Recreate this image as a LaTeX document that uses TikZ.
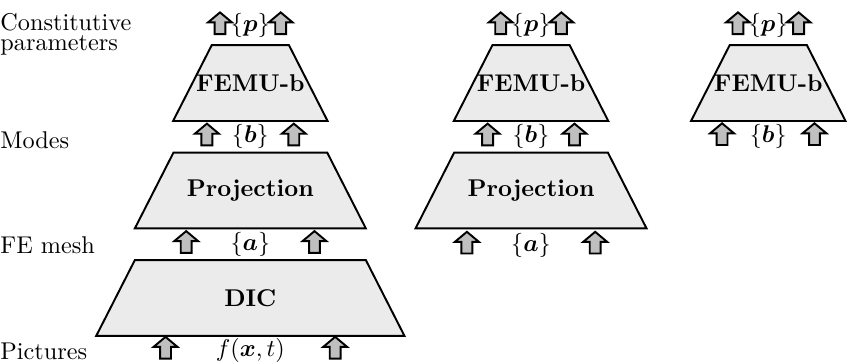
\documentclass[tikz,border=0pt]{standalone}
\usepackage{amsmath,amssymb}
\usepackage{tikz}
\usetikzlibrary{positioning,shapes.geometric,shapes.arrows,calc}
\usepackage{xcolor}

\begin{document}
\begin{tikzpicture}[node distance=4.3mm]
\tikzset{layer/.style={draw, thick, fill=gray!16, trapezium, trapezium angle=63, trapezium stretches body, text height=11mm, text depth=0pt, inner sep=0pt},flow/.style={draw, thick, fill=gray!50, single arrow, single arrow head extend=0.95mm, single arrow tip angle=100, inner xsep=1.1mm, inner ysep=0.65mm, minimum width=3.1mm, minimum height=3.1mm, rotate=90},qty/.style={inner sep=0.4pt},side/.style={anchor=west, inner sep=0pt, align=left}}
\useasboundingbox (0,0) rectangle (122.96mm,52.49mm);
\node[layer, minimum width=44.7mm] (dic) at (36.3mm,9.28mm) {};
\node[layer, minimum width=33.5mm, above=of dic] (proj) {};
\node[layer, minimum width=22.4mm, above=of proj] (femu) {};
\node[layer, minimum width=33.5mm] (proj2) at ($(proj)+(40.7mm,0)$) {};
\node[layer, minimum width=22.4mm, above=of proj2] (femu2) {};
\node[layer, minimum width=22.4mm] (femu3) at ($(femu2)+(34.4mm,0)$) {};
\node[font=\bfseries] (dictxt) at (dic) {DIC}; \node[font=\bfseries] (projtxt) at (proj) {Projection}; \node[font=\bfseries] (femutxt) at (femu) {FEMU-b};
\node[font=\bfseries] (projtxt2) at (proj2) {Projection}; \node[font=\bfseries] (femutxt2) at (femu2) {FEMU-b}; \node[font=\bfseries] (femutxt3) at (femu3) {FEMU-b};
\node[qty] (qf) at ($(dic.south)+(0,-1.9mm)$) {$f(\boldsymbol{x},t)$};
\node[flow] (f1) at ($(qf)+(-12.3mm,0)$) {}; \node[flow] (f2) at ($(qf)+(12.3mm,0)$) {};
\node[qty] (qa) at ($(dic.north)!.5!(proj.south)$) {$\{\boldsymbol{a}\}$};
\node[flow] (a1) at ($(qa)+(-9.3mm,0)$) {}; \node[flow] (a2) at ($(qa)+(9.3mm,0)$) {};
\node[qty] (qb) at ($(proj.north)!.5!(femu.south)$) {$\{\boldsymbol{b}\}$};
\node[flow] (b1) at ($(qb)+(-6.3mm,0)$) {}; \node[flow] (b2) at ($(qb)+(6.3mm,0)$) {};
\node[qty] (qp) at ($(femu.north)+(0,2.7mm)$) {$\{\boldsymbol{p}\}$};
\node[flow] (p1) at ($(qp)+(-4.4mm,0)$) {}; \node[flow] (p2) at ($(qp)+(4.4mm,0)$) {};
\node[qty] (qa2) at ($(proj2.south)+(0,-2.25mm)$) {$\{\boldsymbol{a}\}$};
\node[flow] (a3) at ($(qa2)+(-9.3mm,0)$) {}; \node[flow] (a4) at ($(qa2)+(9.3mm,0)$) {};
\node[qty] (qb2) at ($(proj2.north)!.5!(femu2.south)$) {$\{\boldsymbol{b}\}$};
\node[flow] (b3) at ($(qb2)+(-6.3mm,0)$) {}; \node[flow] (b4) at ($(qb2)+(6.3mm,0)$) {};
\node[qty] (qp2) at ($(femu2.north)+(0,2.7mm)$) {$\{\boldsymbol{p}\}$};
\node[flow] (p3) at ($(qp2)+(-4.4mm,0)$) {}; \node[flow] (p4) at ($(qp2)+(4.4mm,0)$) {};
\node[qty] (qb3) at ($(femu3.south)+(0,-2.1mm)$) {$\{\boldsymbol{b}\}$};
\node[flow] (b5) at ($(qb3)+(-6.7mm,0)$) {}; \node[flow] (b6) at ($(qb3)+(6.7mm,0)$) {};
\node[qty] (qp3) at ($(femu3.north)+(0,2.7mm)$) {$\{\boldsymbol{p}\}$};
\node[flow] (p5) at ($(qp3)+(-4.4mm,0)$) {}; \node[flow] (p6) at ($(qp3)+(4.4mm,0)$) {};
\node[side] (lpar) at (0,47.5mm) {Constitutive\\[-3.5pt]parameters};
\node[side] (lmodes) at (0,32.2mm) {Modes};
\node[side] (lmesh) at (0,17.0mm) {FE mesh};
\node[side] (lpics) at (0,1.5mm) {Pictures};
\end{tikzpicture}
\end{document}
